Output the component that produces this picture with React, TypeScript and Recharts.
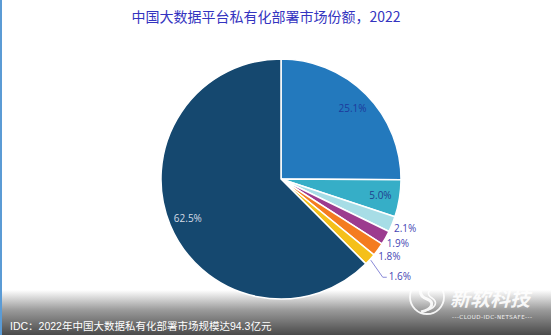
import React from 'react';
import { PieChart, Pie, Cell } from 'recharts';

const shares = [25.1, 5.0, 2.1, 1.9, 1.8, 1.6, 62.5];
const sliceColors = ['#2379bd', '#36aec7', '#a7dde6', '#9c3b8f', '#f47c20', '#f5c01a', '#15486f'];
const insideLabelColors = ['#1d3a9c', '#213f8e', '', '', '', '', '#d6dce6'];

const TITLE = '中国大数据平台私有化部署市场份额，2022';
const CAPTION = 'IDC：2022年中国大数据私有化部署市场规模达94.3亿元';

const W = 551;
const H = 335;
const CX = 281;
const CY = 179;
const R = 120;
const RAD = Math.PI / 180;

const data = shares.map((v, i) => ({ name: `s${i}`, value: v }));
const total = shares.reduce((a, b) => a + b, 0);

// outside labels for small slices, pushed down when they crowd each other
const outerLayout = (() => {
  const out: Record<number, { x: number; y: number; ex: number; ey: number; moved: boolean }> = {};
  let acc = 0;
  let prevY = -Infinity;
  shares.forEach((v, i) => {
    const mid = ((acc + v / 2) / total) * 360; // clockwise from top
    acc += v;
    if (v >= 5) return;
    const sin = Math.sin(mid * RAD);
    const cos = Math.cos(mid * RAD);
    const lr = R + 14;
    const x = CX + lr * sin;
    let y = CY - lr * cos - 2;
    let moved = false;
    if (y < prevY + 13) {
      y = prevY + 20;
      moved = true;
    }
    prevY = y;
    out[i] = { x, y, ex: CX + (R + 1) * sin, ey: CY - (R + 1) * cos, moved };
  });
  return out;
})();

const renderLabel = (p: any) => {
  const { cx, cy, midAngle, outerRadius, index, value } = p;
  const text = `${Number(value).toFixed(1)}%`;
  if (value >= 5) {
    const r = outerRadius * 0.84;
    const x = cx + r * Math.cos(-midAngle * RAD);
    const y = cy + r * Math.sin(-midAngle * RAD);
    return (
      <text x={x} y={y} textAnchor="middle" dominantBaseline="central"
        fill={insideLabelColors[index]} fontSize={10} fontFamily="'Open Sans', sans-serif">
        {text}
      </text>
    );
  }
  const l = outerLayout[index];
  if (!l) return null;
  if (l.moved) {
    const bx = l.ex + 12;
    const by = l.y + 1.5;
    return (
      <g>
        <polyline points={`${l.ex},${l.ey} ${bx},${by} ${bx + 4},${by}`}
          fill="none" stroke="#8a8ad8" strokeWidth={1} />
        <text x={bx + 6} y={l.y} textAnchor="start" dominantBaseline="central"
          fill="#4646b4" fontSize={10} fontFamily="'Open Sans', sans-serif">
          {text}
        </text>
      </g>
    );
  }
  return (
    <text x={l.x} y={l.y} textAnchor="middle" dominantBaseline="central"
      fill="#4646b4" fontSize={10} fontFamily="'Open Sans', sans-serif">
      {text}
    </text>
  );
};

const Logo = () => (
  <svg width={W} height={H} style={{ position: 'absolute', left: 0, top: 0, pointerEvents: 'none' }}>
    <g opacity={0.9}>
      <circle cx={427} cy={297} r={17} fill="none" stroke="#ffffff" strokeWidth={1.8} />
      <path d="M432 283 C416 287 419 296 427 299 C435 302 433 309 421 312" fill="none" stroke="#ffffff" strokeWidth={3} />
      <path d="M437 287 C426 290 427 295 432 298 C438 302 436 307 428 310" fill="none" stroke="#ffffff" strokeWidth={1.6} />
      <text x={490} y={306} textAnchor="middle" fill="#ffffff" fontSize={20} fontStyle="italic"
        fontFamily="'Noto Sans CJK SC', sans-serif" fontWeight={700}>新软科技</text>
      <text x={492} y={319} textAnchor="middle" fill="#ffffff" fontSize={5.5} textLength={80}
        fontFamily="'DejaVu Sans', sans-serif">---CLOUD-IDC-NETSAFE---</text>
    </g>
  </svg>
);

export default function App() {
  return (
    <div style={{ position: 'fixed', left: 0, top: 0, width: W, height: H, background: '#ffffff', overflow: 'hidden' }}>
      <div style={{
        position: 'absolute', left: 0, right: 0, top: 290, bottom: 0,
        background: 'linear-gradient(to bottom, rgba(255,255,255,0) 0%, #9a9a9a 45%, #4a4a4a 100%)',
      }} />
      <div style={{ position: 'absolute', left: 0, top: 0, width: 2, height: H, background: '#5b9bd5' }} />
      <div style={{ position: 'absolute', left: 0, top: 0 }}>
        <PieChart width={W} height={H} margin={{ top: 0, right: 0, bottom: 0, left: 0 }}>
          <text x={266} y={16} textAnchor="middle" dominantBaseline="central" fill="#3434c0"
            fontSize={14} fontFamily="'Noto Sans CJK SC', sans-serif">
            {TITLE}
          </text>
          <Pie
            data={data}
            dataKey="value"
            cx={CX}
            cy={CY}
            outerRadius={R}
            startAngle={90}
            endAngle={-270}
            stroke="#ffffff"
            strokeWidth={1.5}
            label={renderLabel}
            labelLine={false}
            isAnimationActive={false}
          >
            {data.map((d, i) => (
              <Cell key={d.name} fill={sliceColors[i]} />
            ))}
          </Pie>
        </PieChart>
      </div>
      <Logo />
      <div style={{
        position: 'absolute', left: 10, top: 318, color: '#ffffff', fontSize: 10.5,
        fontFamily: "'Liberation Sans', 'Noto Sans CJK SC', sans-serif", whiteSpace: 'nowrap',
      }}>
        {CAPTION}
      </div>
    </div>
  );
}
